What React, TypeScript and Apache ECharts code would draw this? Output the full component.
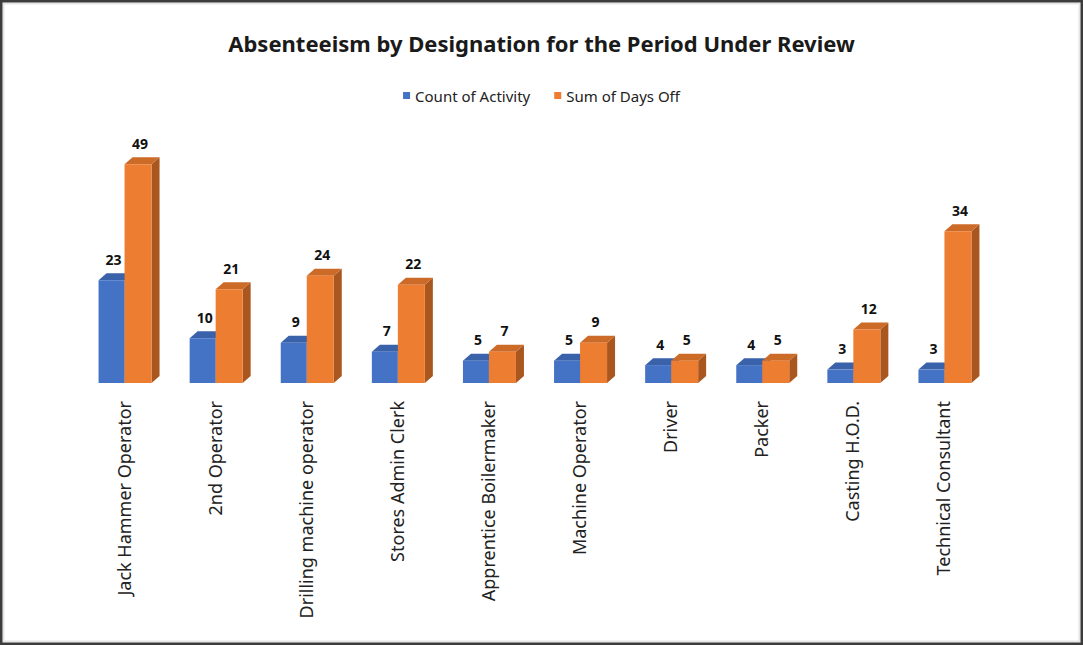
import React, { useEffect, useRef } from "react";
import * as echarts from "echarts";

const categories = [
  "Jack Hammer Operator",
  "2nd Operator",
  "Drilling machine operator",
  "Stores Admin Clerk",
  "Apprentice Boilermaker",
  "Machine Operator",
  "Driver",
  "Packer",
  "Casting H.O.D.",
  "Technical Consultant",
];
const countOfActivity = [23, 10, 9, 7, 5, 5, 4, 4, 3, 3];
const sumOfDaysOff = [49, 21, 24, 22, 7, 9, 5, 5, 12, 34];
const seriesNames = ["Count of Activity", "Sum of Days Off"];

const FONT = "'Noto Sans', 'Liberation Sans', sans-serif";
const palettes = [
  { front: "#4472C4", top: "#3A62AA", side: "#2F5597" },
  { front: "#ED7D31", top: "#CC6A28", side: "#A9561F" },
];

function makeRender(s: number) {
  return (params: any, api: any) => {
    const i = api.value(0);
    const v = api.value(1);
    const top = api.coord([i, v]);
    const base = api.coord([i, 0]);
    const cx = top[0];
    const w = s === 0 ? 26 : 27;
    const x0 = s === 0 ? cx - 25 : cx + 1;
    const x1 = x0 + w;
    const yT = top[1];
    const yB = base[1];
    const dx = 8;
    const dy = 7;
    const p = palettes[s];
    return {
      type: "group",
      children: [
        {
          type: "polygon",
          shape: { points: [[x1, yT], [x1 + dx, yT - dy], [x1 + dx, yB - dy], [x1, yB]] },
          style: { fill: p.side },
        },
        {
          type: "polygon",
          shape: { points: [[x0, yT], [x0 + dx, yT - dy], [x1 + dx, yT - dy], [x1, yT]] },
          style: { fill: p.top },
        },
        {
          type: "rect",
          shape: { x: x0, y: yT, width: w, height: yB - yT },
          style: { fill: p.front },
        },
        {
          type: "text",
          style: {
            text: String(v),
            x: (x0 + x1) / 2 + 2,
            y: yT - dy - 7,
            align: "center",
            verticalAlign: "bottom",
            fill: "#111",
            font: `bold 14px ${FONT}`,
          },
        },
      ],
    };
  };
}

export default function App() {
  const ref = useRef<HTMLDivElement>(null);
  useEffect(() => {
    if (!ref.current) return;
    const chart = echarts.init(ref.current, null, { renderer: "svg" });
    chart.setOption({
      animation: false,
      backgroundColor: "#ffffff",
      title: {
        text: "Absenteeism by Designation for the Period Under Review",
        left: "center",
        top: 27,
        textStyle: { fontFamily: FONT, fontWeight: "bold", fontSize: 22, color: "#1a1a1a" },
      },
      legend: {
        top: 83,
        left: "center",
        icon: "rect",
        itemWidth: 7,
        itemHeight: 7,
        itemGap: 24,
        data: seriesNames,
        textStyle: { fontFamily: FONT, fontSize: 15, color: "#222" },
      },
      grid: { left: 78, right: 94, top: 115, bottom: 262 },
      xAxis: {
        type: "category",
        data: categories,
        axisLine: { show: false },
        axisTick: { show: false },
        axisLabel: {
          rotate: 90,
          margin: 18,
          interval: 0,
          fontFamily: FONT,
          fontSize: 18,
          color: "#222",
        },
      },
      yAxis: { type: "value", min: 0, max: 60, show: false, splitLine: { show: false } },
      series: [countOfActivity, sumOfDaysOff].map((vals, s) => ({
        type: "custom",
        name: seriesNames[s],
        itemStyle: { color: palettes[s].front },
        renderItem: makeRender(s),
        encode: { x: 0, y: 1 },
        data: vals.map((v, i) => [i, v]),
      })),
      graphic: [
        {
          type: "rect",
          shape: { x: 3.5, y: 3.5, width: 1076, height: 638 },
          style: { fill: "none", stroke: "#e6e6e6", lineWidth: 2 },
          silent: true,
        },
        {
          type: "rect",
          shape: { x: 1.25, y: 1.25, width: 1080.5, height: 642.5 },
          style: { fill: "none", stroke: "#3c3c3c", lineWidth: 2.5 },
          silent: true,
        },
      ],
    });
    return () => chart.dispose();
  }, []);
  return (
    <div
      ref={ref}
      style={{ position: "absolute", left: 0, top: 0, width: 1083, height: 645 }}
    />
  );
}
